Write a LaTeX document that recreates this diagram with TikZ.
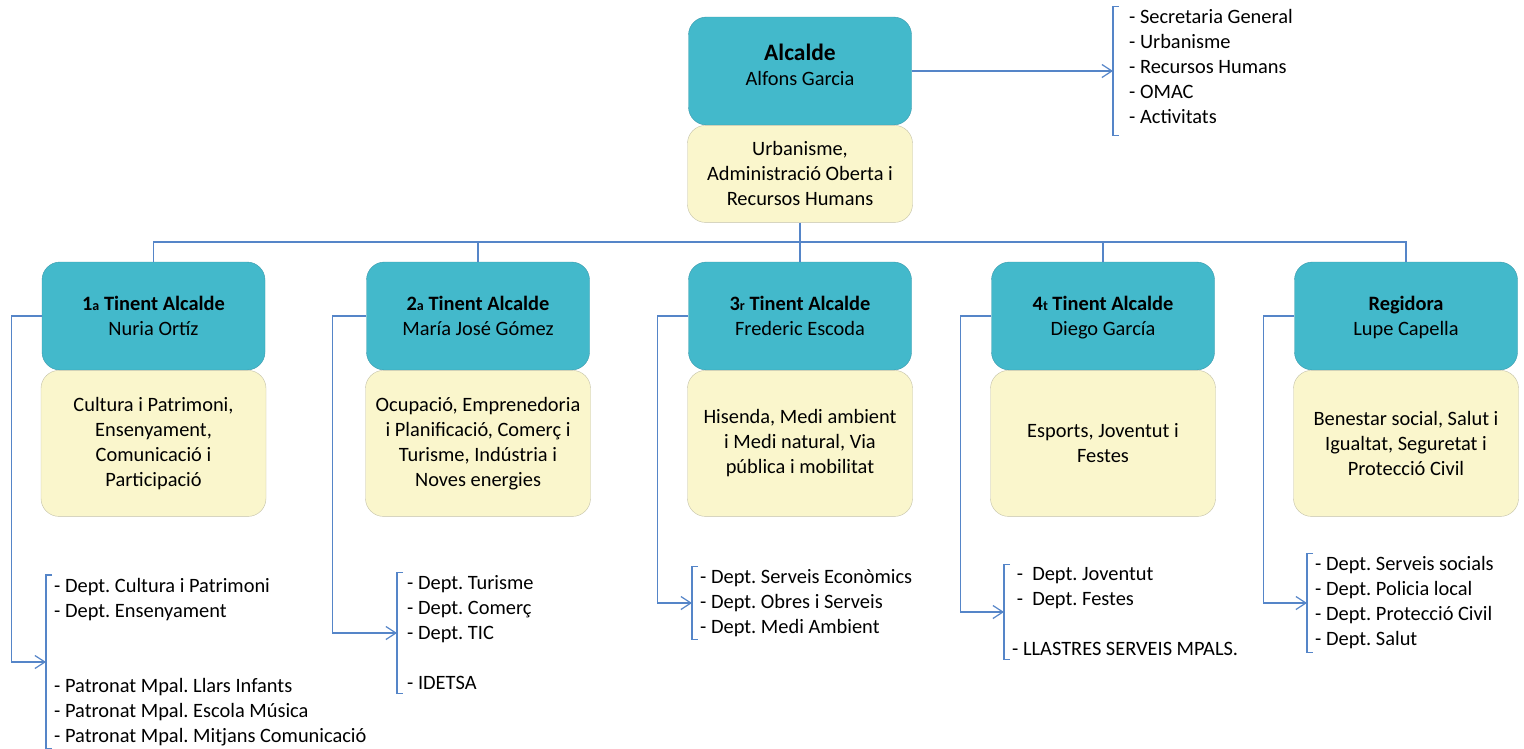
\documentclass[tikz,border=0pt]{standalone}
\usepackage{fontspec}
\setmainfont{Carlito}
\usetikzlibrary{arrows.meta}
\frenchspacing
\definecolor{headfill}{HTML}{43B9CB}
\definecolor{headline}{HTML}{3A9AAD}
\definecolor{areafill}{HTML}{FAF6CC}
\definecolor{arealine}{HTML}{C4C2A8}
\definecolor{linkblue}{HTML}{5585C8}
\newcommand{\ordsuf}[1]{{\fontsize{14}{14}\selectfont #1}}
\newcommand{\bodyfont}{\fontsize{20.4}{25}\selectfont}

\begin{document}
\begin{tikzpicture}[x=1pt,y=-1pt,
  headbox/.style={draw=headline,fill=headfill,rounded corners=18pt,text depth=0pt,
    minimum width=223pt,minimum height=108pt,align=center,font=\bodyfont},
  areabox/.style={draw=arealine,fill=areafill,rounded corners=18pt,
    minimum width=225pt,anchor=north,align=center,font=\bodyfont},
  deptlist/.style={anchor=west,align=left,inner xsep=8pt,inner ysep=3pt,font=\bodyfont},
  conn/.style={draw=linkblue,line width=1.2pt},
  linkarrow/.style={-{Straight Barb[length=10pt,width=13pt]}}]
\useasboundingbox (0,0) rectangle (1524,748);
\fill[white] (0,0) rectangle (1524,748);

\node[headbox,text depth=12pt] (alc) at (800,71) {{\fontsize{23.5}{26}\selectfont\textbf{Alcalde}}\\Alfons Garcia};
\node[areabox,minimum height=97pt] (alcarea) at (alc.south) {Urbanisme,\\Administració Oberta i\\Recursos Humans};
\node[deptlist,inner xsep=16pt,text depth=9pt] (l0) at (1113,71) {- Secretaria General\\- Urbanisme\\- Recursos Humans\\- OMAC\\- Activitats};

\node[headbox] (t1) at (153.5,316) {\textbf{1\ordsuf{a} Tinent Alcalde}\\Nuria Ortíz};
\node[headbox] (t2) at (478,316)   {\textbf{2\ordsuf{a} Tinent Alcalde}\\María José Gómez};
\node[headbox] (t3) at (800,316)   {\textbf{3\ordsuf{r} Tinent Alcalde}\\Frederic Escoda};
\node[headbox] (t4) at (1103,316)  {\textbf{4\ordsuf{t} Tinent Alcalde}\\Diego García};
\node[headbox] (t5) at (1406,316)  {\textbf{Regidora}\\Lupe Capella};

\node[areabox,minimum height=146pt] (a1) at (t1.south) {Cultura i Patrimoni,\\Ensenyament,\\Comunicació i\\Participació};
\node[areabox,minimum height=146pt] (a2) at (t2.south) {Ocupació, Emprenedoria\\i Planificació, Comerç i\\Turisme, Indústria i\\Noves energies};
\node[areabox,minimum height=146pt] (a3) at (t3.south) {Hisenda, Medi ambient\\i Medi natural, Via\\pública i mobilitat};
\node[areabox,minimum height=146pt] (a4) at (t4.south) {Esports, Joventut i\\Festes};
\node[areabox,minimum height=146pt] (a5) at (t5.south) {Benestar social, Salut i\\Igualtat, Seguretat i\\Protecció Civil};

\node[deptlist] (l1) at (46,662)   {- Dept. Cultura i Patrimoni\\- Dept. Ensenyament\\~\\~\\- Patronat Mpal. Llars Infants\\- Patronat Mpal. Escola Música\\- Patronat Mpal. Mitjans Comunicació};
\node[deptlist,inner xsep=10pt] (l2) at (397,633) {- Dept. Turisme\\- Dept. Comerç\\- Dept. TIC\\~\\- IDETSA};
\node[deptlist] (l3) at (692,603)  {- Dept. Serveis Econòmics\\- Dept. Obres i Serveis\\- Dept. Medi Ambient};
\node[deptlist] (l4) at (1004,612) {\ -~~Dept. Joventut\\\ -~~Dept. Festes\\~\\- LLASTRES SERVEIS MPALS.};
\node[deptlist] (l5) at (1307,603) {- Dept. Serveis socials\\- Dept. Policia local\\- Dept. Protecció Civil\\- Dept. Salut};

\foreach \l in {l0,l1,l2,l3,l4,l5}
  \draw[conn] ([xshift=6pt]\l.north west) -- (\l.north west) -- (\l.south west) -- ([xshift=6pt]\l.south west);

\coordinate (bus) at (0,242);
\draw[conn] (alcarea.south) -- (t3.north);
\draw[conn] (t1.north) -- (t1.north |- bus) -- (t5.north |- bus) -- (t5.north);
\foreach \t in {t2,t4}
  \draw[conn] (\t.north) -- (\t.north |- bus);

\draw[conn,linkarrow] (alc.east) -- (l0.west);
\foreach \t/\l/\d in {t1/l1/30,t2/l2/34,t3/l3/31,t4/l4/31,t5/l5/31}
  \draw[conn,linkarrow] (\t.west) -- ++(-\d,0) |- (\l.west);
\end{tikzpicture}
\end{document}
